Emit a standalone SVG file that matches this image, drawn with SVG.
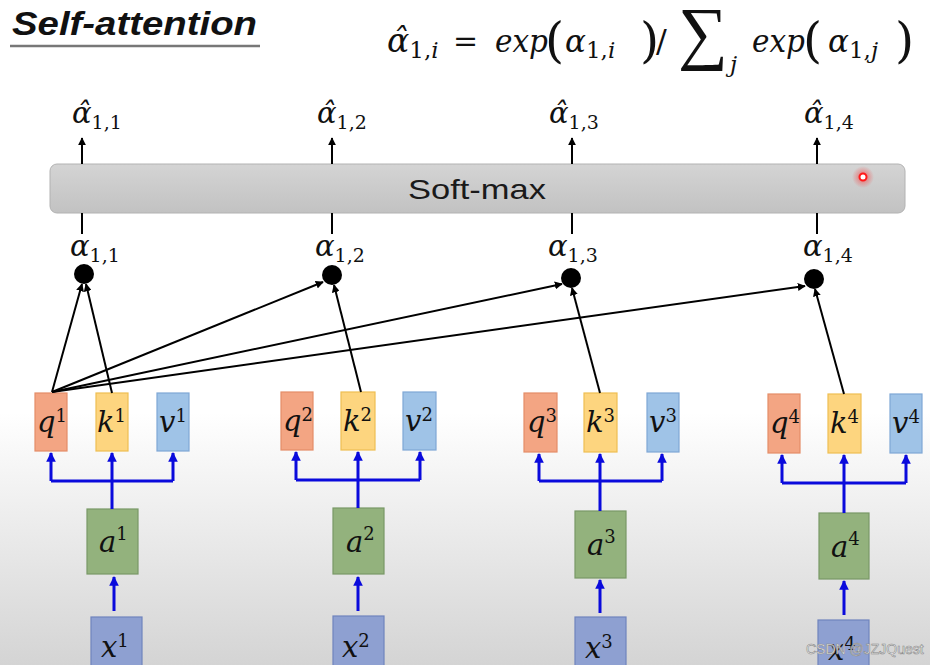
<svg xmlns="http://www.w3.org/2000/svg" width="930" height="665" viewBox="0 0 930 665">
<defs>
<linearGradient id="bg" x1="0" y1="0" x2="0" y2="1">
<stop offset="0" stop-color="#ffffff"/>
<stop offset="0.62" stop-color="#ffffff"/>
<stop offset="1" stop-color="#d4d4d4"/>
</linearGradient>
<linearGradient id="bar" x1="0" y1="0" x2="0" y2="1">
<stop offset="0" stop-color="#d4d4d4"/>
<stop offset="1" stop-color="#c2c2c2"/>
</linearGradient>
<radialGradient id="glow">
<stop offset="0" stop-color="#ff2020" stop-opacity="0.6"/>
<stop offset="1" stop-color="#ff2020" stop-opacity="0"/>
</radialGradient>
<marker id="ak" viewBox="0 0 10 10" refX="9" refY="5" markerWidth="4" markerHeight="4" orient="auto" markerUnits="strokeWidth">
<path d="M0,0 L10,5 L0,10 z" fill="#000"/>
</marker>
<marker id="ab" viewBox="0 0 10 10" refX="9" refY="5" markerWidth="3.2" markerHeight="3.2" orient="auto" markerUnits="strokeWidth">
<path d="M0,0 L10,5 L0,10 z" fill="#0a0adc"/>
</marker>
</defs>
<style>
.m{font-family:"DejaVu Serif","Liberation Serif",serif;font-style:italic;fill:#111}
.u{font-family:"DejaVu Serif","Liberation Serif",serif;font-style:normal;fill:#111}
.s{font-family:"Liberation Sans","DejaVu Sans",sans-serif}
.bk{stroke:#000;stroke-width:2;fill:none}
.bl{stroke:#0a0adc;stroke-width:3;fill:none}
.q{fill:#f3a583;stroke:#e48d68;stroke-width:1.2}
.k{fill:#fdd57f;stroke:#efbf52;stroke-width:1.2}
.v{fill:#9fc3e7;stroke:#7fa7d6;stroke-width:1.2}
.a{fill:#93b27d;stroke:#789866;stroke-width:1.2}
.x{fill:#8ea0d1;stroke:#6f84bd;stroke-width:1.2}
.bt{font-size:29px}
.bs{font-size:18px}
.lb{font-size:29px}
.ls{font-size:19px}
</style>
<rect x="0" y="0" width="930" height="665" fill="url(#bg)"/>

<g id="title">
<text x="12" y="35" class="s" font-size="33" font-weight="bold" font-style="italic" fill="#111" textLength="245" lengthAdjust="spacingAndGlyphs">Self-attention</text>
<line x1="10" y1="46" x2="260" y2="46" stroke="#777" stroke-width="2.5"/>
</g>

<g id="formula">
<text x="387" y="52" class="m" font-size="33">α̂<tspan class="u" font-size="23" dy="6">1,</tspan><tspan class="m" font-size="23">i</tspan></text>
<text x="453" y="51" class="u" font-size="30">=</text>
<text x="495" y="52" class="m" font-size="32" textLength="53" lengthAdjust="spacingAndGlyphs">exp</text>
<text x="545" y="57" class="u" font-size="49">(</text>
<text x="565" y="52" class="m" font-size="31">α<tspan class="u" font-size="23" dy="6">1,</tspan><tspan class="m" font-size="23">i</tspan></text>
<text x="640" y="57" class="u" font-size="49">)</text>
<text x="656" y="52" class="u" font-size="32">/</text>
<text x="678" y="56" font-family="Liberation Serif, serif" font-size="70" fill="#111">∑</text>
<text x="730" y="72" class="m" font-size="23">j</text>
<text x="752" y="52" class="m" font-size="32" textLength="53" lengthAdjust="spacingAndGlyphs">exp</text>
<text x="803" y="57" class="u" font-size="49">(</text>
<text x="828" y="52" class="m" font-size="31">α<tspan class="u" font-size="23" dy="6">1,</tspan><tspan class="m" font-size="23">j</tspan></text>
<text x="895" y="57" class="u" font-size="49">)</text>
</g>

<g id="softmax">
<rect x="50" y="164" width="855" height="49" rx="7" fill="url(#bar)" stroke="#b2b2b2" stroke-width="1"/>
<text x="477" y="199" class="s" font-size="28" fill="#1a1a1a" text-anchor="middle" textLength="138" lengthAdjust="spacingAndGlyphs">Soft-max</text>
<circle cx="863" cy="177" r="11" fill="url(#glow)"/>
<circle cx="863" cy="177" r="3.5" fill="#fff" stroke="#ff1a1a" stroke-width="2"/>
</g>

<g id="hat-labels">
<text x="72" y="123" class="m lb">α̂<tspan class="u ls" dy="6">1,1</tspan></text>
<text x="317" y="123" class="m lb">α̂<tspan class="u ls" dy="6">1,2</tspan></text>
<text x="549" y="123" class="m lb">α̂<tspan class="u ls" dy="6">1,3</tspan></text>
<text x="804" y="123" class="m lb">α̂<tspan class="u ls" dy="6">1,4</tspan></text>
</g>

<g id="alpha-labels">
<text x="70" y="256" class="m lb">α<tspan class="u ls" dy="6">1,1</tspan></text>
<text x="315" y="256" class="m lb">α<tspan class="u ls" dy="6">1,2</tspan></text>
<text x="548" y="256" class="m lb">α<tspan class="u ls" dy="6">1,3</tspan></text>
<text x="803" y="256" class="m lb">α<tspan class="u ls" dy="6">1,4</tspan></text>
</g>

<g id="dots">
<circle cx="84" cy="274" r="10" fill="#000"/>
<circle cx="332" cy="275" r="10" fill="#000"/>
<circle cx="571" cy="278" r="10" fill="#000"/>
<circle cx="814" cy="279" r="10" fill="#000"/>
</g>

<g id="group1">
<g id="q1"><rect x="35" y="393" width="32" height="58" class="q"/><text x="37" y="432" class="m bt">q<tspan class="u bs" dy="-10">1</tspan></text></g>
<g id="k1"><rect x="96" y="393" width="32" height="58" class="k"/><text x="97" y="432" class="m bt">k<tspan class="u bs" dy="-10">1</tspan></text></g>
<g id="v1"><rect x="157" y="393" width="32" height="58" class="v"/><text x="159" y="432" class="m bt">v<tspan class="u bs" dy="-10">1</tspan></text></g>
<g id="a1"><rect x="87" y="509" width="51" height="65" class="a"/><text x="99" y="552" class="m bt">a<tspan class="u bs" dy="-12">1</tspan></text></g>
<g id="x1"><rect x="91" y="617" width="51" height="60" class="x"/><text x="101" y="657" class="m bt">x<tspan class="u bs" dy="-10">1</tspan></text></g>
</g>
<g id="group2">
<g id="q2"><rect x="281" y="392" width="32" height="58" class="q"/><text x="283" y="431" class="m bt">q<tspan class="u bs" dy="-10">2</tspan></text></g>
<g id="k2"><rect x="341" y="392" width="34" height="58" class="k"/><text x="343" y="431" class="m bt">k<tspan class="u bs" dy="-10">2</tspan></text></g>
<g id="v2"><rect x="403" y="392" width="33" height="58" class="v"/><text x="405" y="431" class="m bt">v<tspan class="u bs" dy="-10">2</tspan></text></g>
<g id="a2"><rect x="333" y="508" width="51" height="66" class="a"/><text x="346" y="552" class="m bt">a<tspan class="u bs" dy="-12">2</tspan></text></g>
<g id="x2"><rect x="333" y="616" width="51" height="60" class="x"/><text x="342" y="657" class="m bt">x<tspan class="u bs" dy="-10">2</tspan></text></g>
</g>
<g id="group3">
<g id="q3"><rect x="524" y="393" width="33" height="59" class="q"/><text x="527" y="432" class="m bt">q<tspan class="u bs" dy="-10">3</tspan></text></g>
<g id="k3"><rect x="584" y="393" width="33" height="59" class="k"/><text x="586" y="432" class="m bt">k<tspan class="u bs" dy="-10">3</tspan></text></g>
<g id="v3"><rect x="647" y="393" width="32" height="59" class="v"/><text x="649" y="432" class="m bt">v<tspan class="u bs" dy="-10">3</tspan></text></g>
<g id="a3"><rect x="575" y="511" width="51" height="67" class="a"/><text x="587" y="555" class="m bt">a<tspan class="u bs" dy="-12">3</tspan></text></g>
<g id="x3"><rect x="575" y="617" width="51" height="60" class="x"/><text x="585" y="658" class="m bt">x<tspan class="u bs" dy="-10">3</tspan></text></g>
</g>
<g id="group4">
<g id="q4"><rect x="768" y="394" width="32" height="59" class="q"/><text x="770" y="433" class="m bt">q<tspan class="u bs" dy="-10">4</tspan></text></g>
<g id="k4"><rect x="828" y="394" width="33" height="59" class="k"/><text x="830" y="433" class="m bt">k<tspan class="u bs" dy="-10">4</tspan></text></g>
<g id="v4"><rect x="890" y="394" width="32" height="59" class="v"/><text x="892" y="433" class="m bt">v<tspan class="u bs" dy="-10">4</tspan></text></g>
<g id="a4"><rect x="819" y="513" width="50" height="66" class="a"/><text x="831" y="557" class="m bt">a<tspan class="u bs" dy="-12">4</tspan></text></g>
<g id="x4"><rect x="818" y="620" width="51" height="60" class="x"/><text x="828" y="660" class="m bt">x<tspan class="u bs" dy="-10">4</tspan></text></g>
</g>

<g id="connectors">
<line x1="82" y1="164" x2="82" y2="138" class="bk" marker-end="url(#ak)"/>
<line x1="332" y1="164" x2="332" y2="138" class="bk" marker-end="url(#ak)"/>
<line x1="572" y1="164" x2="572" y2="138" class="bk" marker-end="url(#ak)"/>
<line x1="817" y1="164" x2="817" y2="138" class="bk" marker-end="url(#ak)"/>
<line x1="82" y1="213" x2="82" y2="234" class="bk"/>
<line x1="332" y1="213" x2="332" y2="234" class="bk"/>
<line x1="572" y1="213" x2="572" y2="234" class="bk"/>
<line x1="817" y1="213" x2="817" y2="234" class="bk"/>

<line x1="52" y1="392" x2="82" y2="284" class="bk" marker-end="url(#ak)"/>
<line x1="112" y1="393" x2="86" y2="284" class="bk" marker-end="url(#ak)"/>
<line x1="52" y1="392" x2="323" y2="282" class="bk" marker-end="url(#ak)"/>
<line x1="52" y1="392" x2="562" y2="284" class="bk" marker-end="url(#ak)"/>
<line x1="52" y1="392" x2="805" y2="286" class="bk" marker-end="url(#ak)"/>
<line x1="361" y1="392" x2="334" y2="285" class="bk" marker-end="url(#ak)"/>
<line x1="600" y1="393" x2="572" y2="288" class="bk" marker-end="url(#ak)"/>
<line x1="844" y1="394" x2="815" y2="289" class="bk" marker-end="url(#ak)"/>

<path d="M112,509 V481 M51,481 H173" class="bl"/>
<line x1="51" y1="481" x2="51" y2="453" class="bl" marker-end="url(#ab)"/>
<line x1="112" y1="481" x2="112" y2="453" class="bl" marker-end="url(#ab)"/>
<line x1="173" y1="481" x2="173" y2="453" class="bl" marker-end="url(#ab)"/>
<line x1="114" y1="611" x2="114" y2="577" class="bl" marker-end="url(#ab)"/>

<path d="M358,508 V480 M296,480 H420" class="bl"/>
<line x1="296" y1="480" x2="296" y2="452" class="bl" marker-end="url(#ab)"/>
<line x1="358" y1="480" x2="358" y2="452" class="bl" marker-end="url(#ab)"/>
<line x1="420" y1="480" x2="420" y2="452" class="bl" marker-end="url(#ab)"/>
<line x1="358" y1="611" x2="358" y2="577" class="bl" marker-end="url(#ab)"/>

<path d="M600,511 V481 M539,481 H662" class="bl"/>
<line x1="539" y1="481" x2="539" y2="454" class="bl" marker-end="url(#ab)"/>
<line x1="600" y1="481" x2="600" y2="454" class="bl" marker-end="url(#ab)"/>
<line x1="662" y1="481" x2="662" y2="454" class="bl" marker-end="url(#ab)"/>
<line x1="600" y1="613" x2="600" y2="580" class="bl" marker-end="url(#ab)"/>

<path d="M844,513 V483 M782,483 H906" class="bl"/>
<line x1="782" y1="483" x2="782" y2="455" class="bl" marker-end="url(#ab)"/>
<line x1="844" y1="483" x2="844" y2="455" class="bl" marker-end="url(#ab)"/>
<line x1="906" y1="483" x2="906" y2="455" class="bl" marker-end="url(#ab)"/>
<line x1="844" y1="615" x2="844" y2="581" class="bl" marker-end="url(#ab)"/>
</g>

<text x="806" y="654" class="s" font-size="14" fill="#fff" stroke="#888" stroke-width="0.6">CSDN @JZJQuest</text>
</svg>
